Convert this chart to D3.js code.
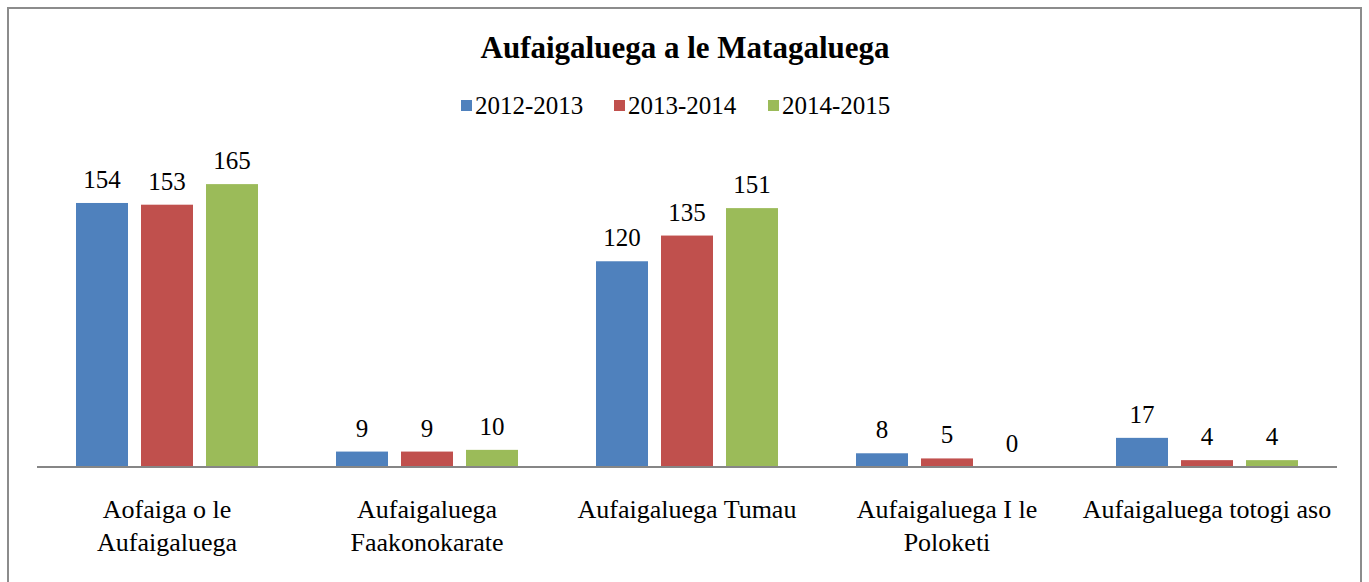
<!DOCTYPE html>
<html>
<head>
<meta charset="utf-8">
<script src="https://cdn.jsdelivr.net/npm/d3@7/dist/d3.min.js"></script>
<style>
  html, body { margin: 0; padding: 0; background: #fff; }
  svg { display: block; }
  svg text { font-family: "Liberation Serif", "Times New Roman", Times, "DejaVu Serif", serif; }
</style>
</head>
<body>
<svg id="chart" width="1369" height="582"></svg>
<script>
const categories = [
  ["Aofaiga o le", "Aufaigaluega"],
  ["Aufaigaluega", "Faakonokarate"],
  ["Aufaigaluega Tumau"],
  ["Aufaigaluega I le", "Poloketi"],
  ["Aufaigaluega totogi aso"]
];
const seriesNames = ["2012-2013", "2013-2014", "2014-2015"];
const values2012 = [154, 9, 120, 8, 17];
const values2013 = [153, 9, 135, 5, 4];
const values2014 = [165, 10, 151, 0, 4];
const colors = ["#4f81bd", "#c0504d", "#9bbb59"];

const series = [values2012, values2013, values2014];
const svg = d3.select("#chart");

// outer frame
svg.append("rect")
  .attr("x", 8).attr("y", 8).attr("width", 1353).attr("height", 590)
  .attr("fill", "none").attr("stroke", "#8c8c8c").attr("stroke-width", 2);

const plot = { left: 37, right: 1337, base: 467 };
const x0 = d3.scaleBand().domain(d3.range(categories.length))
  .range([plot.left, plot.right]).paddingInner(0).paddingOuter(0);
const x1 = d3.scaleBand().domain(d3.range(series.length))
  .range([39, 221]).paddingInner(0.2);
const y = d3.scaleLinear().domain([0, 180]).range([plot.base, plot.base - 308.6]);

// title
svg.append("text")
  .attr("x", 685).attr("y", 58)
  .attr("text-anchor", "middle")
  .attr("font-weight", "bold").attr("font-size", 31)
  .text("Aufaigaluega a le Matagaluega");

// legend
const legendX = [461, 614, 768];
const lg = svg.append("g");
seriesNames.forEach((name, i) => {
  lg.append("rect").attr("x", legendX[i]).attr("y", 100).attr("width", 11).attr("height", 11)
    .attr("fill", colors[i]);
  lg.append("text").attr("x", legendX[i] + 14).attr("y", 114)
    .attr("font-size", 25).text(name);
});

// bars and value labels
const groups = svg.append("g").selectAll("g")
  .data(categories.map((c, ci) => ci))
  .join("g")
  .attr("transform", ci => `translate(${x0(ci)},0)`);

series.forEach((vals, si) => {
  groups.append("rect")
    .attr("x", x1(si))
    .attr("y", ci => y(vals[ci]))
    .attr("width", x1.bandwidth())
    .attr("height", ci => plot.base - y(vals[ci]))
    .attr("fill", colors[si]);
  groups.append("text")
    .attr("x", x1(si) + x1.bandwidth() / 2)
    .attr("y", ci => y(vals[ci]) - 15)
    .attr("text-anchor", "middle")
    .attr("font-size", 25)
    .text(ci => vals[ci]);
});

// baseline
svg.append("line")
  .attr("x1", plot.left).attr("x2", plot.right)
  .attr("y1", plot.base).attr("y2", plot.base)
  .attr("stroke", "#868686").attr("stroke-width", 2);

// category labels
groups.each(function(ci) {
  const t = d3.select(this).append("text")
    .attr("text-anchor", "middle")
    .attr("font-size", 26);
  categories[ci].forEach((line, li) => {
    t.append("tspan").attr("x", x0.bandwidth() / 2).attr("y", 518 + li * 33).text(line);
  });
});
</script>
</body>
</html>
